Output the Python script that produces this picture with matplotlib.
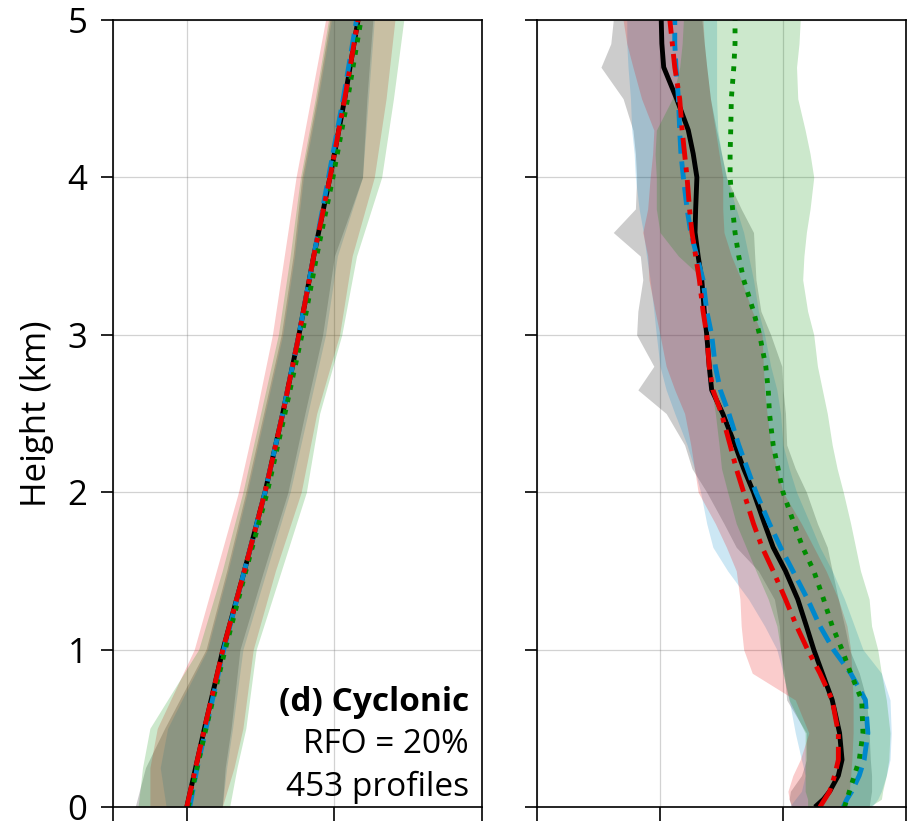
# Vertical profiles, cyclonic regime: left and right panels with spread bands
import numpy as np
import matplotlib
matplotlib.use('Agg')
import matplotlib.pyplot as plt

plt.rcParams['font.family'] = ['Open Sans', 'DejaVu Sans']

# ---------------- left panel ----------------
h_left = [0, 0.25, 0.5, 1, 1.5, 2, 2.5, 3, 3.5, 4, 4.5, 5]
left_black = [0, 0.06, 0.12, 0.245, 0.39, 0.53, 0.65, 0.76, 0.86, 0.97, 1.07, 1.16]
left_blue = [0.02, 0.07, 0.13, 0.25, 0.39, 0.53, 0.65, 0.76, 0.86, 0.96, 1.06, 1.15]
left_red = [0, 0.06, 0.12, 0.245, 0.39, 0.53, 0.65, 0.76, 0.86, 0.97, 1.07, 1.16]
left_green = [0.01, 0.07, 0.13, 0.26, 0.40, 0.545, 0.665, 0.78, 0.88, 0.99, 1.09, 1.18]

left_black_lo = [-0.35, -0.28, -0.15, 0.13, 0.27, 0.40, 0.52, 0.64, 0.72, 0.78, 0.88, 0.97]
left_black_hi = [0.24, 0.26, 0.30, 0.36, 0.52, 0.685, 0.80, 0.92, 1.00, 1.19, 1.22, 1.26]
left_blue_lo = [-0.14, -0.18, -0.13, 0.14, 0.28, 0.41, 0.53, 0.65, 0.73, 0.79, 0.89, 0.98]
left_blue_hi = [0.24, 0.27, 0.31, 0.38, 0.54, 0.70, 0.82, 0.94, 1.02, 1.19, 1.23, 1.27]
left_red_lo = [-0.25, -0.25, -0.2, 0.05, 0.2, 0.35, 0.47, 0.58, 0.66, 0.74, 0.84, 0.94]
left_red_hi = [0.24, 0.32, 0.38, 0.45, 0.60, 0.775, 0.88, 1.035, 1.12, 1.27, 1.35, 1.41]
left_green_lo = [-0.33, -0.30, -0.25, 0.08, 0.24, 0.38, 0.50, 0.62, 0.70, 0.77, 0.87, 0.96]
left_green_hi = [0.29, 0.34, 0.40, 0.47, 0.64, 0.81, 0.90, 1.05, 1.15, 1.32, 1.40, 1.47]

# ---------------- right panel ----------------
h_right = [0.0, 0.05, 0.1, 0.2, 0.3, 0.47, 0.68, 0.85, 1.0, 1.15, 1.32, 1.5, 1.65, 1.8,
           2.0, 2.15, 2.3, 2.5, 2.65, 2.8, 3.0, 3.15, 3.35, 3.5, 3.65, 3.8, 4.0, 4.15,
           4.3, 4.5, 4.7, 4.85, 5.0]
right_black = [2.26, 2.33, 2.38, 2.45, 2.48, 2.46, 2.40, 2.32, 2.25, 2.19, 2.12, 2.02, 1.92,
               1.85, 1.76, 1.68, 1.61, 1.51, 1.42, 1.40, 1.38, 1.36, 1.34, 1.31, 1.285, 1.29,
               1.30, 1.27, 1.23, 1.135, 1.03, 1.015, 1.01]
right_blue = [2.49, 2.52, 2.56, 2.62, 2.66, 2.69, 2.67, 2.55, 2.41, 2.30, 2.20, 2.08, 1.98,
              1.89, 1.78, 1.71, 1.64, 1.56, 1.49, 1.45, 1.42, 1.38, 1.35, 1.30, 1.25, 1.22,
              1.19, 1.17, 1.16, 1.15, 1.13, 1.12, 1.12]
right_red = [2.30, 2.34, 2.38, 2.42, 2.45, 2.45, 2.40, 2.30, 2.20, 2.11, 2.02, 1.92, 1.83,
             1.76, 1.68, 1.62, 1.57, 1.50, 1.43, 1.40, 1.38, 1.35, 1.32, 1.29, 1.26, 1.24,
             1.22, 1.20, 1.18, 1.16, 1.12, 1.10, 1.08]
right_green = [2.50, 2.52, 2.54, 2.58, 2.62, 2.65, 2.64, 2.55, 2.48, 2.40, 2.33, 2.25, 2.16,
               2.09, 2.00, 1.96, 1.92, 1.89, 1.88, 1.86, 1.81, 1.76, 1.68, 1.64, 1.61, 1.59,
               1.57, 1.57, 1.575, 1.58, 1.60, 1.61, 1.61]

right_black_lo = [2.07, 2.05, 2.06, 2.15, 2.19, 2.19, 2.03, 2.01, 1.98, 1.97, 1.93, 1.80, 1.62,
                  1.52, 1.38, 1.26, 1.20, 1.05, 0.82, 0.95, 0.81, 0.82, 0.86, 0.84, 0.62, 0.80,
                  0.81, 0.80, 0.78, 0.70, 0.52, 0.60, 0.62]
right_black_hi = [2.70, 2.71, 2.72, 2.72, 2.71, 2.70, 2.68, 2.62, 2.54, 2.50, 2.45, 2.40, 2.36,
                  2.28, 2.19, 2.10, 2.03, 2.02, 2.00, 1.99, 1.90, 1.82, 1.78, 1.77, 1.76, 1.66,
                  1.54, 1.50, 1.46, 1.41, 1.38, 1.36, 1.34]
right_blue_lo = [2.05, 2.10, 2.15, 2.18, 2.15, 2.10, 2.05, 2.00, 1.95, 1.85, 1.72, 1.55, 1.43,
                 1.38, 1.33, 1.28, 1.22, 1.12, 1.05, 1.00, 0.97, 0.95, 0.92, 0.89, 0.865, 0.83,
                 0.80, 0.79, 0.77, 0.76, 0.74, 0.73, 0.73]
right_blue_hi = [2.72, 2.77, 2.80, 2.84, 2.87, 2.88, 2.87, 2.80, 2.65, 2.58, 2.50, 2.40, 2.30,
                 2.22, 2.11, 2.05, 2.00, 1.98, 1.95, 1.90, 1.85, 1.80, 1.76, 1.72, 1.68, 1.62,
                 1.54, 1.50, 1.47, 1.46, 1.46, 1.46, 1.46]
right_red_lo = [2.07, 2.05, 2.04, 2.08, 2.14, 2.21, 2.10, 1.75, 1.68, 1.66, 1.65, 1.62, 1.54,
                1.45, 1.31, 1.28, 1.25, 1.20, 1.12, 1.05, 1.00, 0.96, 0.91, 0.90, 0.86, 0.90,
                0.92, 0.94, 0.95, 0.85, 0.78, 0.73, 0.70]
right_red_hi = [2.50, 2.52, 2.54, 2.55, 2.56, 2.57, 2.57, 2.56, 2.55, 2.52, 2.45, 2.35, 2.25,
                2.15, 2.00, 1.95, 1.90, 1.87, 1.85, 1.84, 1.83, 1.75, 1.66, 1.58, 1.52, 1.51,
                1.51, 1.48, 1.45, 1.41, 1.38, 1.36, 1.35]
right_green_lo = [2.20, 2.20, 2.18, 2.18, 2.18, 2.18, 2.05, 2.00, 1.98, 1.95, 1.88, 1.78, 1.70,
                  1.62, 1.55, 1.50, 1.48, 1.45, 1.42, 1.41, 1.40, 1.39, 1.36, 1.15, 1.00, 0.97,
                  0.97, 0.96, 0.97, 1.10, 1.16, 1.18, 1.19]
right_green_hi = [2.70, 2.80, 2.81, 2.84, 2.86, 2.87, 2.84, 2.80, 2.77, 2.72, 2.70, 2.63, 2.59,
                  2.55, 2.49, 2.44, 2.40, 2.36, 2.32, 2.28, 2.25, 2.20, 2.16, 2.17, 2.19, 2.22,
                  2.25, 2.22, 2.18, 2.12, 2.11, 2.13, 2.14]

c_black = 'black'
c_blue = '#0088cc'
c_red = '#e60000'
c_green = '#008c00'
band_alpha = 0.2


def draw_panel(ax, h, lines, bands):
    for (lo, hi), col in zip(bands, [c_black, c_blue, c_red, c_green]):
        ax.fill_betweenx(h, lo, hi, color=col, alpha=band_alpha, linewidth=0)
    black, blue, red, green = lines
    ax.plot(black, h, color=c_black, lw=3.5, solid_capstyle='butt')
    ax.plot(blue, h, color=c_blue, lw=3.5, linestyle=(0, (3.7, 1.6)))
    ax.plot(green, h, color=c_green, lw=3.5, linestyle=(0, (1, 1.6)))
    ax.plot(red, h, color=c_red, lw=3.5, linestyle=(0, (4.5, 1.6, 1, 1.6)))
    ax.set_ylim(0, 5)
    ax.set_yticks([0, 1, 2, 3, 4, 5])
    ax.grid(True, color='grey', alpha=0.35, lw=0.9)
    ax.set_axisbelow(True)
    ax.tick_params(axis='x', direction='out', length=10, width=1.2, labelbottom=False)
    ax.tick_params(axis='y', direction='out', length=8.5, width=1.2, pad=10, labelsize=25)
    for s in ax.spines.values():
        s.set_linewidth(1.2)


fig = plt.figure(figsize=(9.18, 8.21), dpi=100)
ax1 = fig.add_axes([113 / 918, 14 / 821, 369 / 918, 787 / 821])
ax2 = fig.add_axes([537 / 918, 14 / 821, 369 / 918, 787 / 821])

draw_panel(ax1, h_left,
           [left_black, left_blue, left_red, left_green],
           [(left_black_lo, left_black_hi), (left_blue_lo, left_blue_hi),
            (left_red_lo, left_red_hi), (left_green_lo, left_green_hi)])
ax1.set_xlim(-0.5, 2)
ax1.set_xticks([-0.5, 0, 1, 2])
ax1.set_ylabel('Height (km)', fontsize=25)
ax1.yaxis.set_label_coords(-0.16, 0.5)

draw_panel(ax2, h_right,
           [right_black, right_blue, right_red, right_green],
           [(right_black_lo, right_black_hi), (right_blue_lo, right_blue_hi),
            (right_red_lo, right_red_hi), (right_green_lo, right_green_hi)])
ax2.set_xlim(0, 3)
ax2.set_xticks([0, 1, 2, 3])
ax2.tick_params(axis='y', labelleft=False)

ax1.text(0.965, 0.122, '(d) Cyclonic', transform=ax1.transAxes, ha='right',
         va='baseline', fontsize=24, fontweight='bold')
ax1.text(0.965, 0.0686, 'RFO = 20%', transform=ax1.transAxes, ha='right',
         va='baseline', fontsize=24)
ax1.text(0.965, 0.014, '453 profiles', transform=ax1.transAxes, ha='right',
         va='baseline', fontsize=24)

fig.savefig('out.png', dpi=100)
